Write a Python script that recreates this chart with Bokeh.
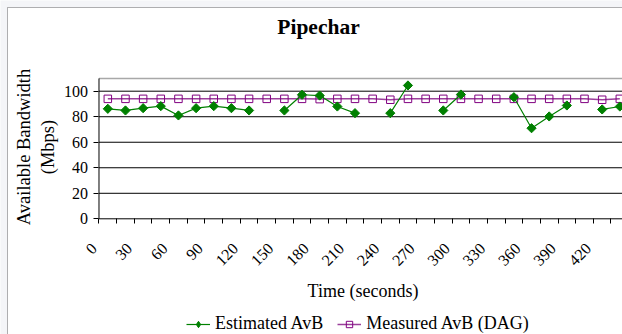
import math
from bokeh.plotting import figure
from bokeh.models import (Range1d, FixedTicker, Legend, LegendItem, Label,
                          BoxAnnotation)
from bokeh.embed import file_html
from bokeh.resources import INLINE

# ---- data ----
times = [0, 15, 30, 45, 60, 75, 90, 105, 120, 135, 150, 165, 180, 195, 210,
         225, 240, 255, 270, 285, 300, 315, 330, 345, 360, 375, 390, 405, 420, 435]
nan = float("nan")
estimated = [86.2, 84.9, 86.7, 88.3, 81.0, 86.7, 88.3, 86.7, 84.9, nan,
             84.9, 97.2, 96.6, 88.0, 82.8, nan, 82.8, 104.5, nan, 84.9,
             97.4, nan, nan, 95.3, 71.0, 80.2, 88.8, nan, 85.7, 88.0]
measured = [94.0, 94.0, 94.0, 94.0, 94.0, 94.0, 94.0, 94.0, 94.0, 94.0,
            94.0, 94.0, 93.8, 94.0, 94.0, 94.0, 93.3, 94.0, 94.0, 94.0,
            94.0, 94.0, 94.0, 94.0, 94.0, 94.0, 94.0, 94.0, 93.3, 94.0]
tick_labels = ["0", "30", "60", "90", "120", "150", "180", "210", "240",
               "270", "300", "330", "360", "390", "420"]
y_ticks = [0, 20, 40, 60, 80, 100]
y_top = 110

FONT = "Liberation Serif"
W, H = 622, 334
x = list(range(len(times)))

# whole canvas is the frame; axes are placed at fixed data locations
X0, X1 = -6.079, 29.152
Y0, Y1 = -90.67, 171.08
p = figure(width=W, height=H, x_range=Range1d(X0, X1), y_range=Range1d(Y0, Y1),
           output_backend="svg", toolbar_location=None, min_border=0,
           background_fill_color="#f4f5f8", border_fill_color="#f4f5f8")
p.outline_line_color = None
p.xgrid.visible = False
p.ygrid.visible = False

# chart area (white, black left/top border)
p.add_layout(BoxAnnotation(left=7, right=W + 100, bottom=-100, top=H - 7,
                           left_units="screen", right_units="screen",
                           bottom_units="screen", top_units="screen",
                           fill_color="white", fill_alpha=1.0,
                           line_color="black", line_width=1, level="underlay"))

x_left = -0.5
x_right = X1 + 1
# horizontal gridlines, top border of plot area, axis lines
n_grid = len(y_ticks) - 1
p.segment(x0=[x_left] * n_grid, y0=y_ticks[1:], x1=[x_right] * n_grid, y1=y_ticks[1:],
          line_color="black", line_width=1)
p.segment(x0=[x_left], y0=[y_top], x1=[x_right], y1=[y_top],
          line_color="#a8a8a8", line_width=1.5)
p.segment(x0=[x_left, x_left], y0=[0, 0], x1=[x_left, x_right], y1=[y_top, 0],
          line_color="black", line_width=1)

# y axis
ya = p.yaxis[0]
ya.fixed_location = x_left
ya.ticker = FixedTicker(ticks=y_ticks)
ya.axis_line_color = None
ya.major_tick_line_color = "black"
ya.major_tick_out = 5
ya.major_tick_in = 0
ya.minor_tick_line_color = None
ya.major_label_text_font = FONT
ya.major_label_text_font_size = "16px"
ya.major_label_text_color = "black"
ya.major_label_standoff = 6

# x axis: tick marks at category boundaries, labels every other category
bounds = [i - 0.5 for i in range(len(times) + 1)]
label_pos = [2 * k - 0.78 for k in range(len(tick_labels))]
overrides = {lp: lab for lp, lab in zip(label_pos, tick_labels)}
xa = p.xaxis[0]
xa.fixed_location = 0
xa.ticker = FixedTicker(ticks=label_pos, minor_ticks=bounds)
xa.major_label_overrides = overrides
xa.axis_line_color = None
xa.major_tick_line_color = None
xa.minor_tick_line_color = "black"
xa.minor_tick_out = 5
xa.minor_tick_in = 0
xa.major_tick_out = 5
xa.major_tick_in = 0
xa.major_label_orientation = math.pi / 4
xa.major_label_text_font = FONT
xa.major_label_text_font_size = "16px"
xa.major_label_text_color = "black"
xa.major_label_standoff = 22

# texts
p.add_layout(Label(x=318, y=H - 26, x_units="screen", y_units="screen",
                   text="Pipechar", text_font=FONT, text_font_size="21.5px",
                   text_font_style="bold", text_color="black",
                   text_align="center", text_baseline="middle"))
p.add_layout(Label(x=362.5, y=H - 290, x_units="screen", y_units="screen",
                   text="Time (seconds)", text_font=FONT, text_font_size="18px",
                   text_color="black", text_align="center",
                   text_baseline="middle"))
p.add_layout(Label(x=23.5, y=H - 146.5, x_units="screen", y_units="screen",
                   angle=math.pi / 2, text="Available Bandwidth", text_font=FONT,
                   text_font_size="18.5px", text_color="black",
                   text_align="center", text_baseline="middle"))
p.add_layout(Label(x=47, y=H - 146.5, x_units="screen", y_units="screen",
                   angle=math.pi / 2, text="(Mbps)", text_font=FONT,
                   text_font_size="18.5px", text_color="black",
                   text_align="center", text_baseline="middle"))

# series
meas_line = p.line(x, measured, line_color="#9b3f9b", line_width=1.5)
meas_pts = p.scatter(x, measured, marker="square", size=7.5, fill_color=None,
                     line_color="#800080", line_width=1)
est_line = p.line(x, estimated, line_color="#008000", line_width=1.2)
est_pts = p.scatter(x, estimated, marker="square", angle=math.pi / 4, size=6.5,
                    fill_color="#008000", line_color="#008000")
# legend icon for the estimated series (diamond, not drawn in the plot)
est_icon = p.scatter([nan], [nan], marker="diamond", size=9,
                     fill_color="#008000", line_color="#008000")

legend = Legend(items=[LegendItem(label="Estimated AvB", renderers=[est_line, est_icon]),
                       LegendItem(label="Measured AvB (DAG)", renderers=[meas_line, meas_pts])],
                orientation="horizontal", location=(186, 0),
                label_text_font=FONT, label_text_font_size="18px",
                label_text_color="black",
                glyph_width=24, glyph_height=16, spacing=14, label_standoff=5,
                padding=0, margin=0, border_line_color=None,
                background_fill_alpha=0)
p.add_layout(legend)

open("out.html", "w").write(file_html(p, INLINE))
